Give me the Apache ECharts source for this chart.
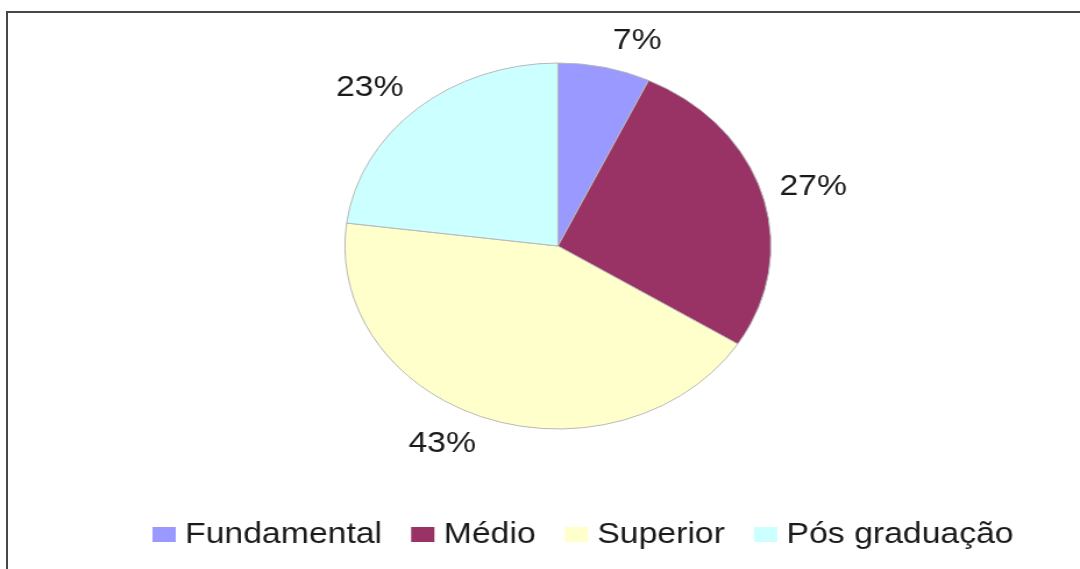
<!DOCTYPE html>
<html>
<head>
<meta charset="utf-8">
<script src="https://cdn.jsdelivr.net/npm/echarts@6/dist/echarts.min.js"></script>
<style>
    html, body {
        margin: 0;
        padding: 0;
        background: #fff;
        overflow: hidden;
    }
    .frame {
        position: absolute;
        left: 6px;
        top: 11px;
        width: 1100px;
        height: 600px;
        border-left: 2px solid #484848;
        border-top: 2px solid #484848;
    }
    /* the original picture is stretched sideways, so the chart is drawn narrower and widened */
    .chart {
        position: absolute;
        left: 0;
        top: 0;
        width: 928px;
        height: 569px;
        transform: scaleX(1.16379);
        transform-origin: 0 0;
    }
</style>
</head>
<body>
<div class="frame"></div>
<div id="chart" class="chart"></div>
<script>
const categories = ['Fundamental', 'Médio', 'Superior', 'Pós graduação']
const values = [7, 27, 43, 23]
const colors = ['#9999ff', '#993366', '#ffffcc', '#ccffff']

const total = values.reduce((a, b) => a + b, 0)

// mid angle of each slice, clockwise from 12 o'clock
function midAngle(i) {
    let before = 0
    for (let k = 0; k < i; k++) before += values[k]
    return (before + values[i] / 2) / total * Math.PI * 2
}

const chart = echarts.init(document.getElementById('chart'), null, {renderer: 'canvas'})

chart.setOption({
    animation: false,
    color: colors,
    textStyle: {
        fontFamily: 'Liberation Sans, Arial, sans-serif',
    },
    legend: {
        left: 126,
        top: 515,
        itemWidth: 20,
        itemHeight: 15,
        itemGap: 25,
        icon: 'rect',
        data: categories,
        textStyle: {
            fontSize: 29,
            color: '#1a1a1a',
            padding: [0, 0, 0, 3],
        },
        itemStyle: {
            borderWidth: 0,
        },
    },
    series: [
        {
            type: 'pie',
            center: [479.4, 246],
            radius: 183,
            startAngle: 90,
            clockwise: true,
            avoidLabelOverlap: false,
            percentPrecision: 0,
            itemStyle: {
                borderColor: '#b8b8b8',
                borderWidth: 1,
            },
            label: {
                show: true,
                position: 'outside',
                formatter: '{d}%',
                fontSize: 29,
                color: '#1a1a1a',
            },
            labelLine: {
                show: false,
                length: 10,
                length2: 0,
            },
            // push labels above/below the pie so the text box clears the rim
            labelLayout: function (params) {
                const a = midAngle(params.dataIndex)
                return {
                    dy: -Math.cos(a) * params.labelRect.height * 0.6,
                }
            },
            emphasis: {
                disabled: true,
            },
            data: categories.map((name, i) => ({name: name, value: values[i]})),
        },
    ],
})
</script>
</body>
</html>
